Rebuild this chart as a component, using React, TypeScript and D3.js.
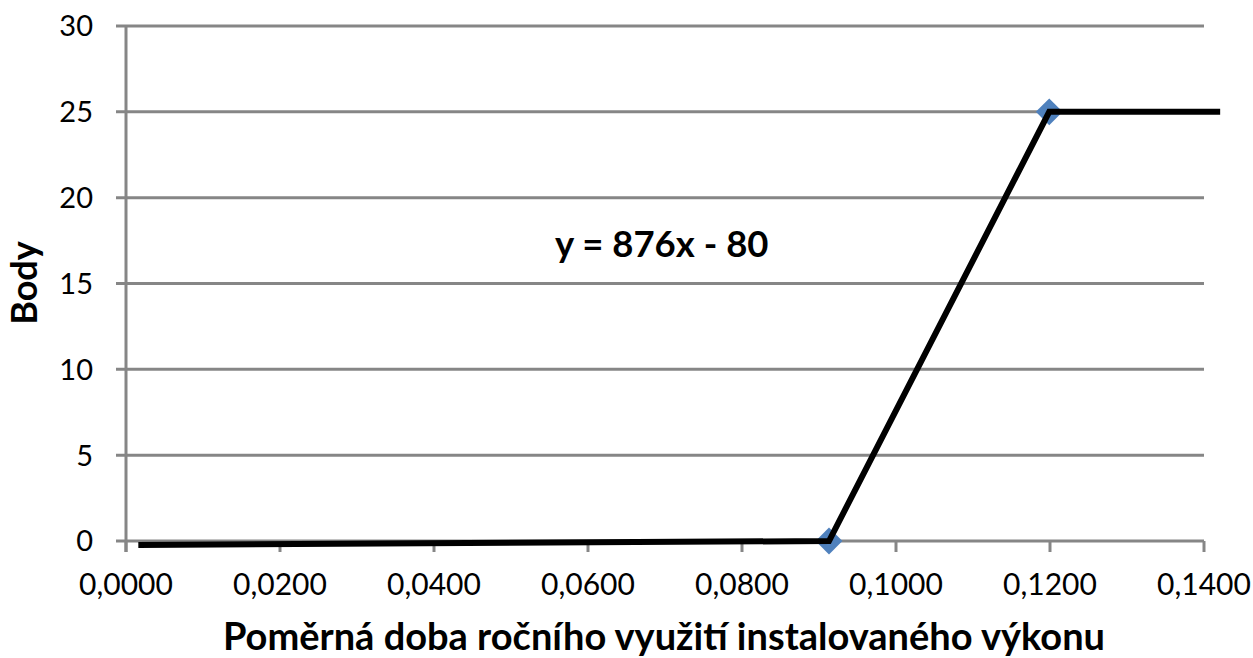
import React from "react";
import * as d3 from "d3";

const lineX = [0.0016, 0.0913, 0.1199, 0.1421];
const lineY = [-0.23, 0, 25, 25];
const markerX = [0.0913, 0.1199];
const markerY = [0, 25];
const yTicks = [0, 5, 10, 15, 20, 25, 30];
const xTicks = [0, 0.02, 0.04, 0.06, 0.08, 0.1, 0.12, 0.14];
const xTitle = "Poměrná doba ročního využití instalovaného výkonu";
const yTitle = "Body";
const equation = "y = 876x - 80";

const W = 1253;
const H = 658;
const FONT = "Lato, 'Open Sans', sans-serif";
const GRID = "#868686";

export default function App() {
  const x = d3.scaleLinear().domain([0, 0.14]).range([126, 1204]);
  const y = d3.scaleLinear().domain([0, 30]).range([541, 26]);
  const pts: [number, number][] = lineX.map((v, i) => [v, lineY[i]]);
  const line = d3
    .line<[number, number]>()
    .x((d) => x(d[0]))
    .y((d) => y(d[1]));
  const diamond = d3.symbol().type(d3.symbolSquare).size(360)();
  const fmt = (v: number) => v.toFixed(4).replace(".", ",");

  return (
    <svg
      width={W}
      height={H}
      style={{ position: "absolute", left: 0, top: 0, background: "#fff" }}
    >
      <rect width={W} height={H} fill="#fff" />
      {yTicks.map((t) => (
        <line
          key={"g" + t}
          x1={x(0) - 10}
          x2={x(0.14)}
          y1={y(t)}
          y2={y(t)}
          stroke={GRID}
          strokeWidth={3}
        />
      ))}
      <line
        x1={x(0)}
        x2={x(0)}
        y1={y(30)}
        y2={y(0) + 11}
        stroke={GRID}
        strokeWidth={3}
      />
      {xTicks.map((t) => (
        <line
          key={"xt" + t}
          x1={x(t)}
          x2={x(t)}
          y1={y(0)}
          y2={y(0) + 11}
          stroke={GRID}
          strokeWidth={3}
        />
      ))}
      {yTicks.map((t) => (
        <text
          key={"yl" + t}
          x={93}
          y={y(t)}
          dy="0.36em"
          textAnchor="end"
          fontFamily={FONT}
          fontSize={29}
          fill="#000"
        >
          {t}
        </text>
      ))}
      {xTicks.map((t) => (
        <text
          key={"xl" + t}
          x={x(t)}
          y={595}
          textAnchor="middle"
          fontFamily={FONT}
          fontSize={30}
          fill="#000"
        >
          {fmt(t)}
        </text>
      ))}
      {markerX.map((v, i) => (
        <path
          key={"m" + i}
          d={diamond || ""}
          transform={`translate(${x(v)},${y(markerY[i])}) rotate(45)`}
          fill="#4F81BD"
        />
      ))}
      <path
        d={line(pts) || ""}
        fill="none"
        stroke="#000"
        strokeWidth={6}
        strokeLinejoin="miter"
      />
      <text
        x={555}
        y={257}
        fontFamily={FONT}
        fontWeight="bold"
        fontSize={36.5}
        fill="#000"
      >
        {equation}
      </text>
      <text
        x={664}
        y={650}
        textAnchor="middle"
        fontFamily={FONT}
        fontWeight="bold"
        fontSize={38}
        fill="#000"
      >
        {xTitle}
      </text>
      <text
        transform={`translate(37,283) rotate(-90)`}
        textAnchor="middle"
        fontFamily={FONT}
        fontWeight="bold"
        fontSize={36}
        fill="#000"
      >
        {yTitle}
      </text>
    </svg>
  );
}
